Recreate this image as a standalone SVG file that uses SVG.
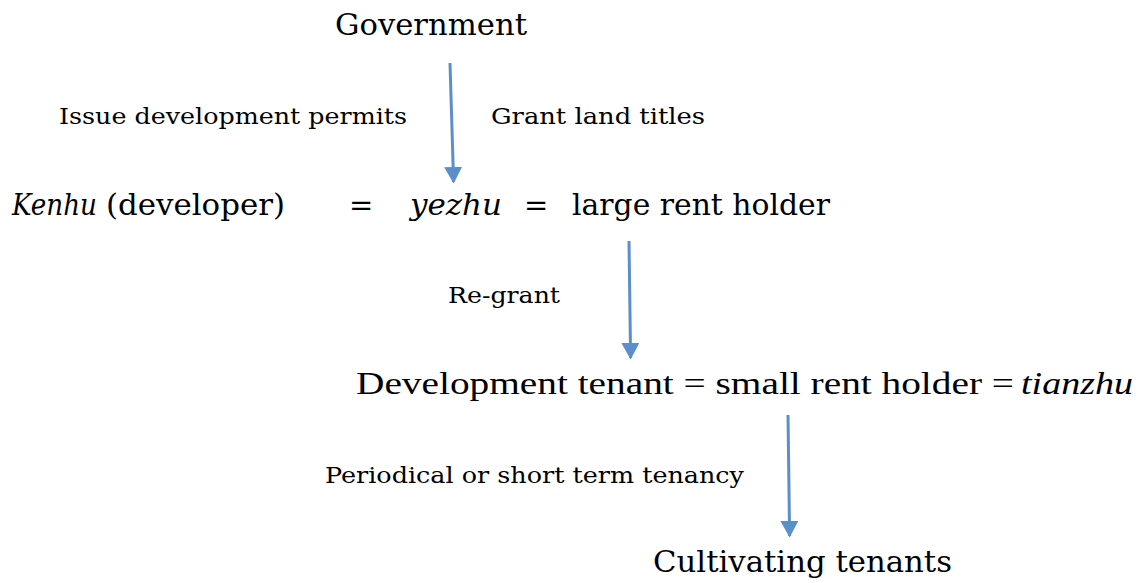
<svg xmlns="http://www.w3.org/2000/svg" width="1138" height="583" viewBox="0 0 1138 583">
<style>
.big{font-family:"DejaVu Serif","Liberation Serif",serif;font-size:29px;fill:#000}
.sm{font-family:"DejaVu Serif","Liberation Serif",serif;font-size:22px;fill:#000}
.cond{font-family:"Liberation Serif",serif;font-size:31px;fill:#000}
.it{font-style:italic}
.arr{stroke:#5b8fc9;stroke-width:3;fill:none}
</style>
<defs>
<marker id="ah" markerWidth="6" markerHeight="6" refX="5" refY="3" orient="auto" markerUnits="strokeWidth">
<path d="M0,0 L5.5,3 L0,6 Z" fill="#5b8fc9"/>
</marker>
</defs>
<g id="government"><text class="big" x="335" y="35" textLength="192" lengthAdjust="spacingAndGlyphs">Government</text></g>
<g id="label-permits"><text class="sm" x="59" y="124" textLength="348" lengthAdjust="spacingAndGlyphs">Issue development permits</text></g>
<g id="label-titles"><text class="sm" x="491" y="124" textLength="214" lengthAdjust="spacingAndGlyphs">Grant land titles</text></g>
<g id="kenhu">
<text class="big it" x="12" y="215" textLength="85" lengthAdjust="spacingAndGlyphs">Kenhu</text>
<text class="big" x="106" y="215" textLength="179" lengthAdjust="spacingAndGlyphs">(developer)</text>
<text class="big" x="349" y="215">=</text>
<text class="big it" x="410" y="215" textLength="92" lengthAdjust="spacingAndGlyphs">yezhu</text>
<text class="big" x="524" y="215">=</text>
<text class="big" x="572" y="215" textLength="258" lengthAdjust="spacingAndGlyphs">large rent holder</text>
</g>
<g id="label-regrant"><text class="sm" x="448" y="303" textLength="112" lengthAdjust="spacingAndGlyphs">Re-grant</text></g>
<g id="dev-tenant">
<text class="cond" x="356" y="394" textLength="658" lengthAdjust="spacingAndGlyphs">Development tenant = small rent holder =</text>
<text class="cond it" x="1021" y="394" textLength="112" lengthAdjust="spacingAndGlyphs">tianzhu</text>
</g>
<g id="label-periodical"><text class="sm" x="325" y="483" textLength="419" lengthAdjust="spacingAndGlyphs">Periodical or short term tenancy</text></g>
<g id="cultivating"><text class="big" x="653" y="572" textLength="299" lengthAdjust="spacingAndGlyphs">Cultivating tenants</text></g>
<g id="connectors">
<line class="arr" x1="450" y1="63" x2="453.6" y2="182" marker-end="url(#ah)"/>
<line class="arr" x1="629" y1="241" x2="630.6" y2="358" marker-end="url(#ah)"/>
<line class="arr" x1="788" y1="415" x2="789.6" y2="536" marker-end="url(#ah)"/>
</g>
</svg>
